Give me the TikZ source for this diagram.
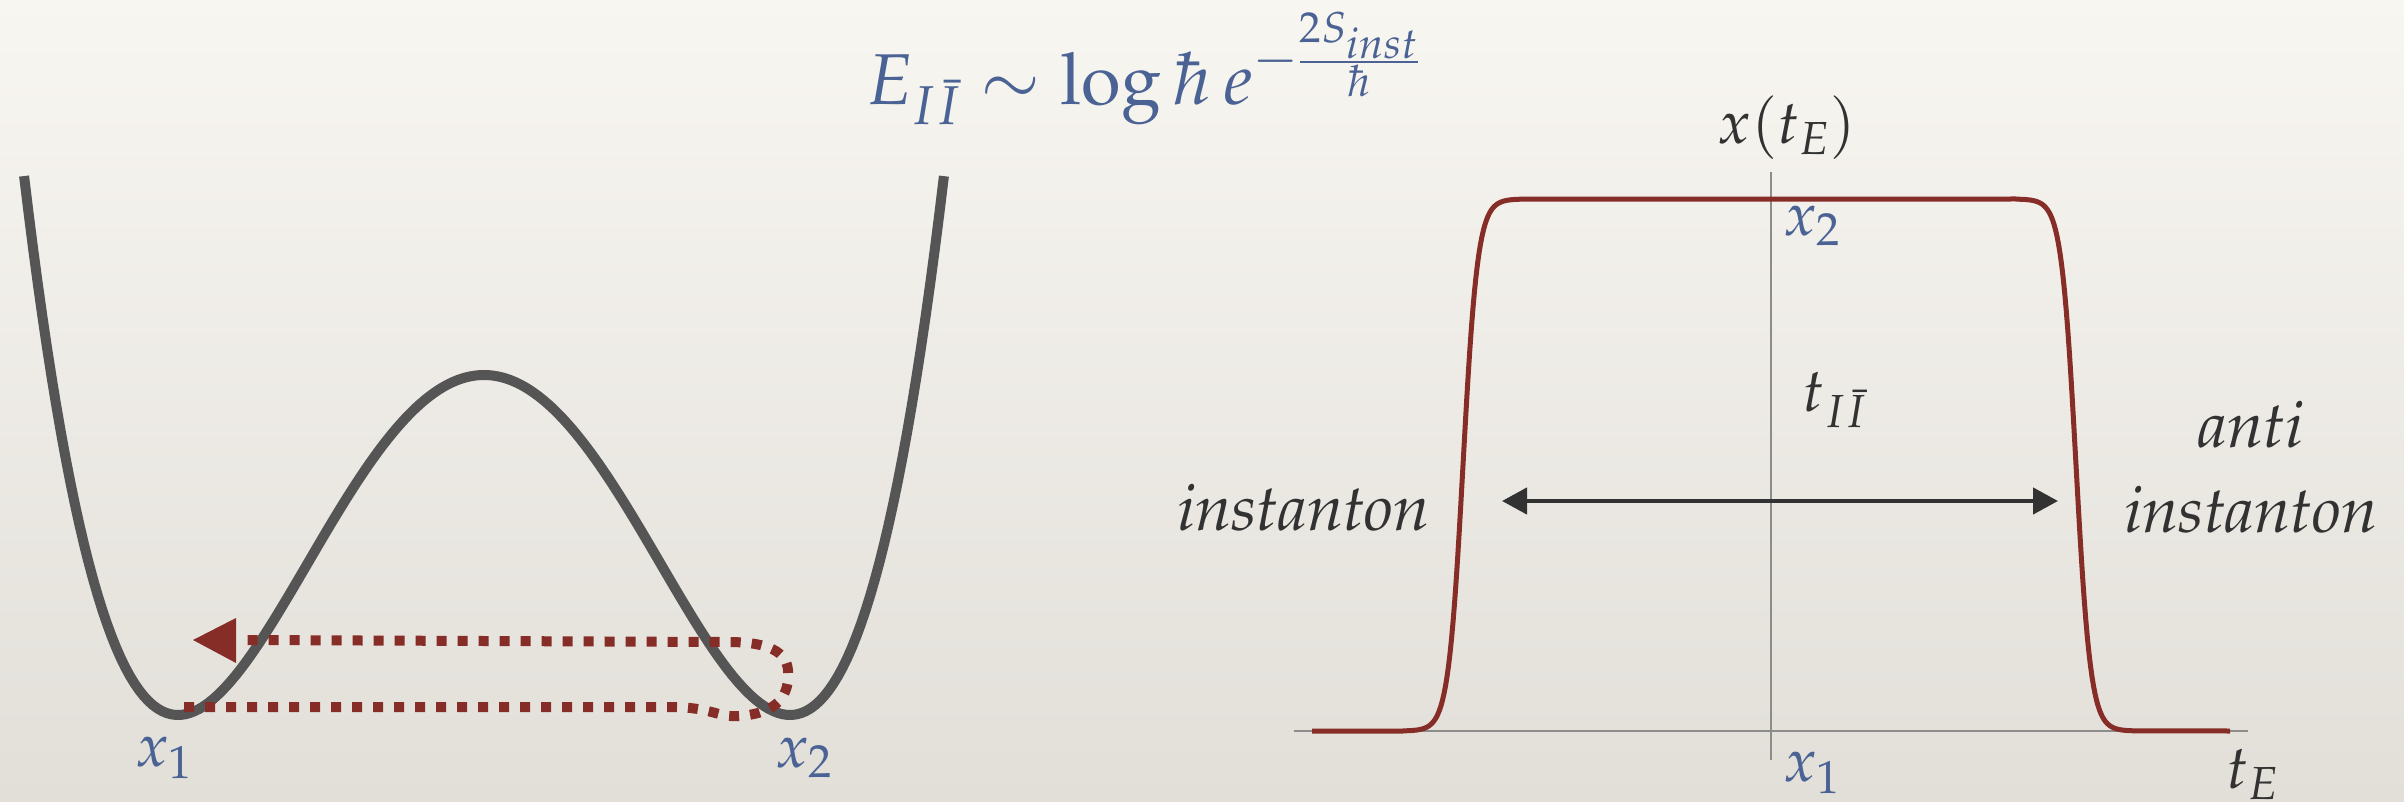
\documentclass[tikz,border=0pt]{standalone}
\usepackage[T1]{fontenc}
\usepackage{mathpazo}
\renewcommand{\rmdefault}{ppl}
\usetikzlibrary{arrows.meta}
\definecolor{bgtop}{RGB}{248,246,241}
\definecolor{bgbot}{RGB}{226,223,217}
\definecolor{blu}{RGB}{74,99,148}
\definecolor{pot}{RGB}{85,85,85}
\definecolor{redc}{RGB}{135,45,40}
\definecolor{dark}{RGB}{50,50,50}
\definecolor{axc}{RGB}{140,140,140}
\tikzset{
  lbl/.style={inner sep=0pt, font=\fontsize{61}{72}\selectfont},
  txt/.style={inner sep=0pt, font=\fontencoding{T1}\fontfamily{ppl}\fontshape{it}\fontsize{65}{78}\selectfont},
  big/.style={inner sep=0pt, font=\fontsize{72}{86}\selectfont},
  potline/.style={draw=pot, line width=10pt},
  pathdots/.style={draw=redc, line width=10pt, dash pattern=on 10pt off 11pt},
  axisline/.style={draw=axc, line width=1.5pt},
  redcurve/.style={draw=redc, line width=5pt, line join=round},
  tarrow/.style={draw=dark, line width=4.5pt, {Triangle[length=25pt,width=26pt]}-{Triangle[length=25pt,width=26pt]}}
}
\begin{document}
\begin{tikzpicture}[x=1pt,y=-1pt]
\shade[top color=bgtop,bottom color=bgbot] (0,0) rectangle (2404,802);
\useasboundingbox (0,0) rectangle (2404,802);
% formula
\node[big, text=blu, anchor=base] (formula) at (1143,105) {$E_{I\bar I}\sim\log\hbar\, e^{-\frac{2S_{inst}}{\hbar}}$};
% left: double well
\draw[potline] plot[domain=-1.503:1.503, samples=201] ({484+306*\x}, {715-340*(\x*\x-1)^2});
\coordinate (p0) at (184,707);
\coordinate (p1) at (670,707);
\coordinate (p2) at (740,716);
\coordinate (p3) at (788,670);
\coordinate (p4) at (728,642);
\coordinate (p5) at (240,640);
\coordinate (ptip) at (193,640);
\draw[pathdots] (p0) -- (p1) .. controls (712,707) and (718,718) .. (p2)
  .. controls (778,713) and (790,695) .. (p3)
  .. controls (786,648) and (760,642) .. (p4) -- (p5);
\fill[redc] (ptip) -- (236,618) -- (236,663) -- cycle;
\node[lbl, text=blu] (x1L) at (164,758) {$x_1$};
\node[lbl, text=blu] (x2L) at (804,758) {$x_2$};
% right: instanton profile
\coordinate (hA) at (1294,731);
\coordinate (hB) at (2248,731);
\coordinate (vA) at (1771,172);
\coordinate (vB) at (1771,760);
\draw[axisline] (hA) -- (hB);
\draw[axisline] (vA) -- (vB);
\draw[redcurve] (1312,731) -- (1403,731)
  -- plot[domain=1403:1523, samples=80] (\x, {731-266*(1+tanh((\x-1463)/14.7))})
  -- (2016,199)
  -- plot[domain=2016:2136, samples=80] (\x, {731-266*(1-tanh((\x-2076)/14.7))})
  -- (2230,731);
\coordinate (aL) at (1502,501);
\coordinate (aR) at (2058,501);
\draw[tarrow] (aL) -- (aR);
\node[lbl, text=dark] (xtE) at (1787,128) {$x(t_E)$};
\node[lbl, text=blu] (x2R) at (1812,226) {$x_2$};
\node[lbl, text=dark] (tII) at (1835,400) {$t_{I\bar I}$};
\node[txt, text=dark, anchor=base east] (instL) at (1430,530) {instanton};
\node[txt, text=dark, anchor=base] (anti) at (2251,447) {anti};
\node[txt, text=dark, anchor=base] (instR) at (2251,532) {instanton};
\node[lbl, text=blu] (x1R) at (1812,773) {$x_1$};
\node[lbl, text=dark] (tE) at (2253,774) {$t_E$};
\end{tikzpicture}
\end{document}
